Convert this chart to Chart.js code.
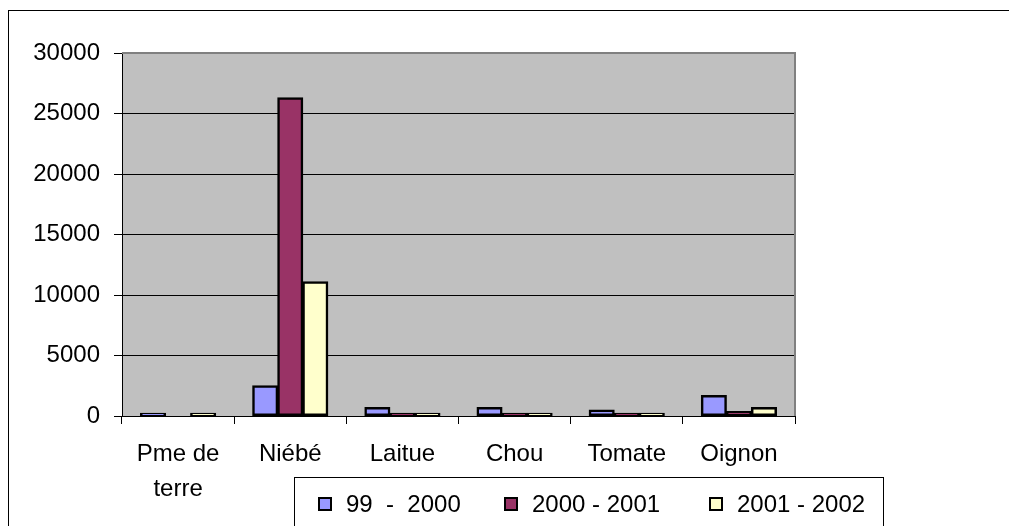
<!DOCTYPE html>
<html>
<head>
<meta charset="utf-8">
<script src="https://cdn.jsdelivr.net/npm/chart.js@4/dist/chart.umd.min.js"></script>
<style>
html, body { margin: 0; padding: 0; background: #fff; }
</style>
</head>
<body>
<canvas id="myChart" width="1009" height="526"></canvas>
<script>
const categories = [['Pme de', 'terre'], 'Niébé', 'Laitue', 'Chou', 'Tomate', 'Oignon'];
const seriesNames = ['99  -  2000', '2000 - 2001', '2001 - 2002'];
const values1999 = [220, 2500, 700, 700, 500, 1700];
const values2000 = [0, 26300, 220, 220, 220, 380];
const values2001 = [220, 11100, 220, 220, 220, 700];
const yTickValues = [0, 5000, 10000, 15000, 20000, 25000, 30000];
const seriesColors = ['#9999FF', '#993366', '#FFFFCC'];

Chart.defaults.font.family = "'Liberation Sans', Arial, sans-serif";
Chart.defaults.font.size = 24;
Chart.defaults.color = '#000';

// fond, cadre exterieur, zone de trace grise
const framePlugin = {
    id: 'frame',
    beforeDraw(chart){
        const ctx = chart.ctx;
        const a = chart.chartArea;
        ctx.save();
        ctx.fillStyle = '#fff';
        ctx.fillRect(0, 0, chart.width, chart.height);
        ctx.strokeStyle = '#000';
        ctx.lineWidth = 1;
        ctx.strokeRect(8.5, 10.5, 1200, 800);
        ctx.fillStyle = '#C0C0C0';
        ctx.fillRect(a.left, a.top, a.right - a.left, a.bottom - a.top);
        ctx.restore();
    },
    beforeDatasetsDraw(chart){
        const ctx = chart.ctx;
        const a = chart.chartArea;
        ctx.save();
        ctx.strokeStyle = '#808080';
        ctx.lineWidth = 2;
        ctx.beginPath();
        ctx.moveTo(a.left, a.top);
        ctx.lineTo(a.right, a.top);
        ctx.lineTo(a.right, a.bottom);
        ctx.stroke();
        ctx.restore();
    }
};

// legende dans une boite en bas
const legendBoxPlugin = {
    id: 'legendBox',
    afterDraw(chart){
        const ctx = chart.ctx;
        const itemX = [318, 504, 709];
        ctx.save();
        ctx.fillStyle = '#fff';
        ctx.fillRect(294.5, 477.5, 589, 100);
        ctx.strokeStyle = '#000';
        ctx.lineWidth = 1;
        ctx.strokeRect(294.5, 477.5, 589, 100);
        ctx.font = "24px 'Liberation Sans', Arial, sans-serif";
        ctx.textBaseline = 'middle';
        chart.data.datasets.forEach((ds, i) => {
            const x = itemX[i];
            ctx.fillStyle = ds.backgroundColor;
            ctx.fillRect(x, 497, 14, 14);
            ctx.strokeStyle = '#000';
            ctx.lineWidth = 2;
            ctx.strokeRect(x + 1, 498, 12, 12);
            ctx.fillStyle = '#000';
            ctx.fillText(ds.label, x + 28, 505);
        });
        ctx.restore();
    }
};

const ctx = document.getElementById('myChart').getContext('2d');
new Chart(ctx, {
    type: 'bar',
    data: {
        labels: categories,
        datasets: [values1999, values2000, values2001].map((vals, i) => {
            return {
                label: seriesNames[i],
                data: vals,
                backgroundColor: seriesColors[i],
                borderColor: '#000',
                borderWidth: 2.5,
                borderSkipped: false,
                inflateAmount: 0.5,
                categoryPercentage: 0.67,
                barPercentage: 1.0,
            };
        }),
    },
    options: {
        responsive: false,
        animation: false,
        layout: { padding: { left: 0, top: 53, right: 214, bottom: 0 } },
        plugins: {
            legend: { display: false },
            tooltip: { enabled: false },
        },
        scales: {
            x: {
                grid: { offset: true, drawOnChartArea: false, color: '#000', tickLength: 8 },
                border: { color: '#000', width: 1 },
                ticks: { color: '#000', padding: 13, maxRotation: 0, autoSkip: false,
                         font: { size: 24, lineHeight: 1.45 } },
                afterFit: (scale) => { scale.height = 110; },
            },
            y: {
                min: 0,
                max: 30000,
                afterBuildTicks: (scale) => { scale.ticks = yTickValues.map(v => ({ value: v })); },
                grid: { color: '#000', tickLength: 8 },
                border: { color: '#000', width: 1 },
                ticks: { color: '#000', padding: 14, font: { size: 24 },
                         callback: (v) => String(v) },
                afterFit: (scale) => { scale.width = 122; },
            },
        },
    },
    plugins: [framePlugin, legendBoxPlugin],
});
</script>
</body>
</html>
